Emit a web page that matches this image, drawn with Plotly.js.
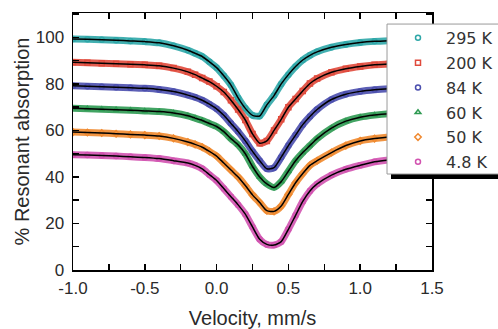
<!DOCTYPE html>
<html>
<head>
<meta charset="utf-8">
<script src="https://cdn.plot.ly/plotly-3.0.1.min.js"></script>
<style>html,body{margin:0;padding:0;background:#fff}#chart{width:498px;height:329px}</style>
</head>
<body>
<div id="chart"></div>
<script>
// Velocity grid (mm/s)
const velocity = [-1.0,-0.9,-0.8,-0.7,-0.6,-0.5,-0.4,-0.3,-0.2,-0.15,-0.1,-0.05,0,0.05,0.1,0.15,0.2,0.25,0.3,0.35,0.4,0.45,0.5,0.55,0.6,0.65,0.7,0.8,0.9,1.0,1.1,1.2,1.3,1.4,1.5];

// % Resonant absorption (offset spectra)
const abs295 = [99.3,99.2,99.0,98.8,98.5,98.2,97.7,96.4,94.5,93.2,91.8,89.5,87,83.5,79.5,74,69.5,66.5,66.2,71,75,80,84,87.5,90.3,92.3,93.8,95.8,97,97.8,98.3,98.6,98.8,99,99];
const abs200 = [89.3,89.1,88.9,88.7,88.5,88.2,87.8,86.8,85.2,84,82.5,81,79,76.5,73,69,64.5,58.5,54.5,55.5,60,64.8,70,73.5,77,80.2,82.3,85,86.5,87.5,88.2,88.6,88.8,88.9,88.9];
const abs84 = [79.2,79,78.8,78.6,78.4,78.1,77.6,76.7,75.2,74.3,73,71.3,69.3,66.5,63,59.5,55.5,51,47,43.5,44,48.5,53.5,58,62.5,66,69,73.3,75.6,76.8,77.5,77.9,78.1,78.2,78.2];
const abs60 = [69.5,69.3,69.1,68.9,68.7,68.4,68.1,67.5,66.3,65.3,64.3,63,61.7,59.5,56.5,53.8,50,44.5,40,37,35.5,38,42.5,47,50.5,53.5,56.5,61,64,65.7,66.6,67.2,67.5,67.6,67.6];
const abs50 = [59.3,59.1,58.9,58.6,58.3,58,57.6,56.6,55,54,52.8,51,49,46,43,40,36.3,32.3,29,25.5,25.2,27.5,32.5,37.5,41.5,45,47,50.5,53.5,55.5,56.5,57.2,57.5,57.6,57.6];
const abs4_8 = [49.5,49.4,49.2,49,48.7,48.4,47.9,47,46,45,43.5,41,38.5,35,31.5,28,24,18.5,13.2,11,10.7,12.2,17.5,23.5,29.5,34,37,40.8,43.3,45,46.5,47.3,47.8,48,48];

const seriesNames = ["295 K","200 K","84 K","60 K","50 K","4.8 K"];
const seriesValues = [abs295, abs200, abs84, abs60, abs50, abs4_8];
const seriesColors = ["#2fa7a8","#e04a3c","#4b4fae","#2e9a52","#f0892f","#d253b0"];
const seriesSymbols = ["circle-open","square-open","circle-open","triangle-up-open","diamond-open","circle-open"];

const xTicks = [-1.0,-0.5,0.0,0.5,1.0,1.5];
const xTickText = ["-1.0","-0.5","0.0","0.5","1.0","1.5"];
const yTicks = [0,20,40,60,80,100];

const traces = [];
seriesValues.forEach((vals, i) => {
  traces.push({x: velocity, y: vals, mode: 'markers', name: seriesNames[i],
    legendgroup: 'g' + i,
    marker: {symbol: seriesSymbols[i], size: 5, color: seriesColors[i], line: {color: seriesColors[i], width: 1.5}}});
  traces.push({x: velocity, y: vals, mode: 'lines', showlegend: false, hoverinfo: 'skip',
    legendgroup: 'g' + i,
    opacity: 0.9, line: {color: seriesColors[i], width: 7, shape: 'spline', smoothing: 0.6}});
  traces.push({x: velocity, y: vals, mode: 'lines', showlegend: false, hoverinfo: 'skip',
    legendgroup: 'g' + i,
    line: {color: '#000', width: 1.5, shape: 'spline', smoothing: 0.6}});
});

const axisFont = {family: 'Liberation Sans, Arial, sans-serif', size: 17, color: '#2a2a2a'};
const titleFont = {family: 'Liberation Sans, Arial, sans-serif', size: 20, color: '#2a2a2a'};
const layout = {
  width: 498, height: 329,
  margin: {l: 73, r: 66, t: 13, b: 59, pad: 0, autoexpand: false},
  paper_bgcolor: '#fff', plot_bgcolor: '#fff',
  showlegend: true,
  xaxis: {
    range: [-1.0, 1.5], tickvals: xTicks, ticktext: xTickText,
    ticks: 'inside', ticklen: 6, tickwidth: 1.5, tickcolor: '#000',
    minor: {dtick: 0.25, tick0: 0, ticks: 'inside', ticklen: 6, tickwidth: 1.5, tickcolor: '#000', showgrid: false},
    showline: true, linecolor: '#000', linewidth: 1.5, mirror: 'allticks',
    showgrid: false, zeroline: false, tickfont: axisFont, ticklabelstandoff: 2,
    title: {text: 'Velocity, mm/s', font: titleFont, standoff: 17},
    automargin: false
  },
  yaxis: {
    range: [0, 110.5], tickvals: yTicks,
    ticks: 'inside', ticklen: 6, tickwidth: 1.5, tickcolor: '#000',
    minor: {dtick: 10, tick0: 0, ticks: 'inside', ticklen: 6, tickwidth: 1.5, tickcolor: '#000', showgrid: false},
    showline: true, linecolor: '#000', linewidth: 1.5, mirror: 'allticks',
    showgrid: false, zeroline: false, tickfont: axisFont, ticklabelstandoff: 4,
    title: {text: '% Resonant absorption', font: titleFont, standoff: 0},
    automargin: false
  },
  legend: {
    x: 0.883, y: 0.969, xanchor: 'left', yanchor: 'top',
    bgcolor: 'rgba(0,0,0,0)', borderwidth: 0,
    font: {family: 'DejaVu Sans, Verdana, sans-serif', size: 16, color: '#333'},
    itemsizing: 'trace', itemwidth: 46, traceorder: 'grouped', tracegroupgap: 1
  },
  shapes: [
    {type: 'rect', xref: 'paper', yref: 'paper', layer: 'above',
     x0: 0.8858, x1: 1.256, y0: 0.354, y1: 0.9416,
     fillcolor: '#000', line: {width: 0}},
    {type: 'rect', xref: 'paper', yref: 'paper', layer: 'above',
     x0: 0.8747, x1: 1.245, y0: 0.3735, y1: 0.957,
     fillcolor: '#fff', line: {color: '#9a9a9a', width: 1}}
  ]
};

Plotly.newPlot('chart', traces, layout, {staticPlot: true, displayModeBar: false});
</script>
</body>
</html>
